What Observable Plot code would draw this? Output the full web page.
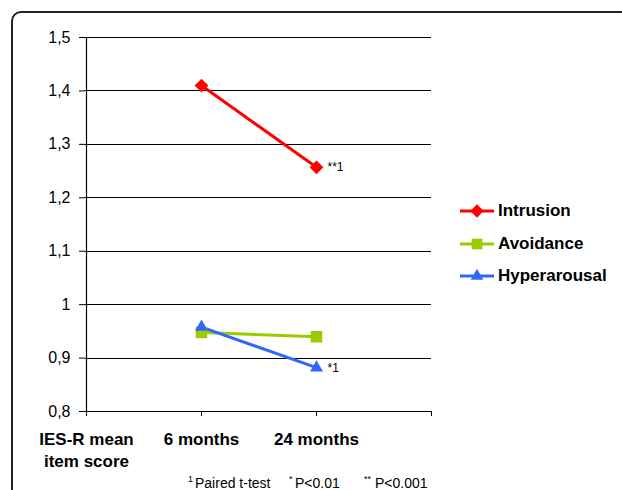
<!DOCTYPE html>
<html><head><meta charset="utf-8">
<script src="https://cdn.jsdelivr.net/npm/d3@7"></script>
<script src="https://cdn.jsdelivr.net/npm/@observablehq/plot@0.6"></script>
<style>
html,body{margin:0;padding:0;background:#fff;overflow:hidden;width:622px;height:490px;}
#wrap{position:relative;width:622px;height:490px;font-family:"Liberation Sans",Arial,sans-serif;overflow:hidden;}
#frame{position:absolute;left:11px;top:11px;width:700px;height:600px;border:2px solid #222;border-radius:10px;}
#chart{position:absolute;left:0;top:0}
#legend{position:absolute;left:460px;top:195px}
.item{display:flex;align-items:center;height:32.5px;font-weight:bold;font-size:17px;color:#000;}
.item svg{margin-right:4px}
#footer{position:absolute;left:0;top:0;width:622px;height:490px;font-size:14px;color:#000;}
#footer span{position:absolute;top:475px;white-space:nowrap;line-height:16px}
#footer span.sup{font-size:9px;top:471px}
</style></head>
<body><div id="wrap"><div id="frame"></div><div id="chart"></div><div id="legend"></div>
<div id="footer">
<span class="sup" style="left:188px">1</span><span style="left:195px">Paired t-test</span>
<span class="sup" style="left:289px">*</span><span style="left:295px">P&lt;0.01</span>
<span class="sup" style="left:364px">**</span><span style="left:375px">P&lt;0.001</span>
</div>
</div>
<script>
const categories = ["IES-R mean item score", "6 months", "24 months", "(blank)"];
const timepoints = ["6 months", "24 months"];
const seriesNames = ["Intrusion", "Avoidance", "Hyperarousal"];
const intrusion = [1.41, 1.257];
const avoidance = [0.948, 0.94];
const hyperarousal = [0.958, 0.882];
const seriesColors = ["#ff0000", "#99cc00", "#3366ff"];
const seriesSymbols = ["diamond2", "square", "triangle2"];
const annotationLabels = ["**1", "", "*1"];
const yTicks = [0.8, 0.9, 1.0, 1.1, 1.2, 1.3, 1.4, 1.5];

const seriesValues = [intrusion, avoidance, hyperarousal];
const rows = [];
seriesNames.forEach((s, i) => timepoints.forEach((t, j) => rows.push({series: s, time: t, value: seriesValues[i][j]})));
const notes = seriesNames.map((s, i) => ({series: s, time: timepoints[1], value: seriesValues[i][1], label: annotationLabels[i]})).filter(d => d.label);

const fmtY = d => String(+d.toFixed(1)).replace(".", ",");
const fmtX = d => d === "(blank)" ? "" : d === "IES-R mean item score" ? "IES-R mean\nitem score" : d;

const marks = [
  Plot.ruleY(yTicks, {stroke: "#000", strokeWidth: 1, shapeRendering: "crispEdges"}),
  Plot.ruleX([categories[0]], {stroke: "#000", strokeWidth: 1.2}),
  Plot.axisY({ticks: yTicks, tickFormat: fmtY, tickSize: 6, tickPadding: 9, fontSize: 16, stroke: "#000", color: "#000"}),
  Plot.axisX({tickFormat: fmtX, tickSize: 5, tickPadding: 13, fontSize: 17, fontWeight: "bold", lineHeight: 1.3, color: "#000", stroke: "#000"})
];
seriesNames.forEach((s, i) => {
  const data = rows.filter(d => d.series === s);
  marks.push(Plot.line(data, {x: "time", y: "value", stroke: seriesColors[i], strokeWidth: 3}));
});
seriesNames.forEach((s, i) => {
  const data = rows.filter(d => d.series === s);
  marks.push(Plot.dot(data, {x: "time", y: "value", fill: seriesColors[i], stroke: "none", symbol: () => seriesSymbols[i], r: i === 1 ? 6.5 : 6.2}));
});
marks.push(Plot.text(notes, {x: "time", y: "value", text: "label", dx: 11, textAnchor: "start", fontSize: 12, fill: "#000"}));

const chart = Plot.plot({
  width: 622, height: 490,
  marginLeft: 85, marginRight: 191, marginTop: 37, marginBottom: 79,
  style: {fontFamily: '"Liberation Sans", Arial, sans-serif', background: "transparent", overflow: "visible", color: "#000"},
  x: {type: "point", domain: categories, padding: 0, label: null},
  y: {domain: [0.8, 1.5], label: null},
  symbol: {type: "identity"},
  marks
});
document.getElementById("chart").appendChild(chart);

const legend = document.getElementById("legend");
seriesNames.forEach((s, i) => {
  const item = document.createElement("div");
  item.className = "item";
  const sym = d3.symbol(d3["symbol" + ({diamond2: "Diamond2", square: "Square", triangle2: "Triangle2"}[seriesSymbols[i]])], Math.PI * 36)();
  item.innerHTML = `<svg width="34" height="14"><line x1="0" x2="34" y1="7" y2="7" stroke="${seriesColors[i]}" stroke-width="3"/><path transform="translate(17,7)" d="${sym}" fill="${seriesColors[i]}"/></svg><span>${s}</span>`;
  legend.appendChild(item);
});
</script></body></html>
